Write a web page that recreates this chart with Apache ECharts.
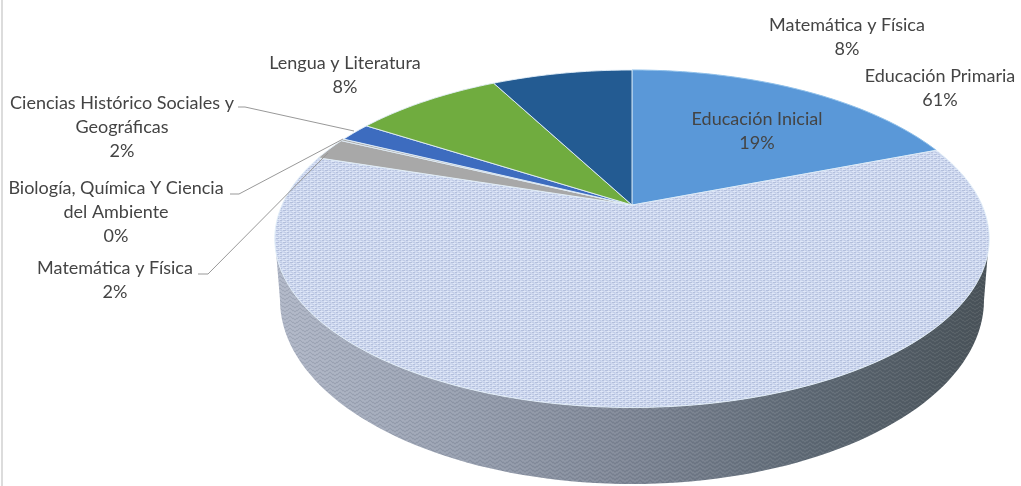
<!DOCTYPE html>
<html>
<head>
<meta charset="utf-8">
<style>html,body{margin:0;padding:0;background:#fff}#c{width:1021px;height:486px}</style>
<script src="https://cdn.jsdelivr.net/npm/echarts@6/dist/echarts.min.js"></script>
</head>
<body>
<div id="c"></div>
<script>
// ---- data ----
const categories = ['Educación Inicial','Educación Primaria','Matemática y Física','Biología, Química Y Ciencia del Ambiente','Ciencias Histórico Sociales y Geográficas','Lengua y Literatura','Matemática y Física'];
const values = [19.1, 60.9, 2.1, 0.2, 1.8, 8.2, 7.7];
const labelLines = [['Educación Inicial'],['Educación Primaria'],['Matemática y Física'],['Biología, Química Y Ciencia','del Ambiente'],['Ciencias Histórico Sociales y','Geográficas'],['Lengua y Literatura'],['Matemática y Física']];

// ---- layout / style ----
const labelPos = [[757,119],[940,76],[115,268],[116,188],[122,103],[345,63],[847,25]];
const leaderStart = {2:[198,274,208,274],3:[230,194,239,194],4:[238,107,245,107]};
const leaderEnd = {2:[328,153],3:[343,139],4:[354,131]};
const colors = ['#5a98d8',null,'#a8a8a8','#a8a8a8','#3d6cbf','#70ac3f','#235b92'];
const proj = {cx:632, c:350, a:121, b:205, k:-0.2};
const topEll = {cy:238.75, rx:357, ry:168.75};
const lowEll = {cy:300, rx:352, ry:184};
const total = values.reduce((s,v)=>s+v,0);

function project(t){ // t: clockwise angle from 12 o'clock on the flat disc
  const X=Math.sin(t),Y=-Math.cos(t),d=1+proj.k*Y;
  return [proj.cx+proj.c*X/d,(proj.a*Y+proj.b)/d];
}
function tile(w,h,paint){const cv=document.createElement('canvas');cv.width=w;cv.height=h;paint(cv.getContext('2d'));return cv;}
const topTile = tile(7,4,g=>{
  g.fillStyle='#ced8ef';g.fillRect(0,0,7,4);
  g.fillStyle='#b3bfdc';g.fillRect(0,0,2,1);g.fillRect(3,2,3,1);
  g.fillStyle='#c1cce6';g.fillRect(4,0,2,1);g.fillRect(0,2,2,1);
  g.fillStyle='#dfe7f7';g.fillRect(2,1,3,1);g.fillRect(5,3,2,1);g.fillRect(0,3,1,1);
});
const wallTile = tile(10,4,g=>{
  for(let x=0;x<10;x++){
    const y=Math.round((x<5?x:9-x)*0.75);
    g.fillStyle='rgba(40,48,60,0.11)';g.fillRect(x,y,1,1);
    g.fillStyle='rgba(255,255,255,0.07)';g.fillRect(x,(y+2)%4,1,1);
  }
});
function wallPoints(){
  const p=[];
  for(let d=0;d<=180;d+=2){const r=d*Math.PI/180;p.push([proj.cx+lowEll.rx*Math.cos(r),lowEll.cy+lowEll.ry*Math.sin(r)]);}
  for(let d=180;d>=0;d-=2){const r=d*Math.PI/180;p.push([proj.cx+topEll.rx*Math.cos(r),topEll.cy+topEll.ry*Math.sin(r)]);}
  return p;
}
function sliceRender(params,api){
  const i=params.dataIndex;
  let start=0;for(let j=0;j<i;j++)start+=values[j];
  const v=api.value(1);
  const a0=start/total*2*Math.PI,a1=(start+v)/total*2*Math.PI;
  const pts=[[proj.cx,proj.b]];
  const n=Math.max(2,Math.ceil((a1-a0)/(Math.PI/180)));
  for(let s=0;s<=n;s++)pts.push(project(a0+(a1-a0)*s/n));
  const top={type:'polygon',shape:{points:pts},style:{
    fill:colors[i]||{image:topTile,repeat:'repeat'},
    stroke:i===0?'#8fc0ea':'rgba(226,238,248,0.9)',lineWidth:1,lineJoin:'round'}};
  if(i!==1)return top;
  const w=wallPoints();
  return {type:'group',children:[
    {type:'polygon',shape:{points:w},style:{fill:{type:'linear',x:275,y:0,x2:990,y2:0,global:true,colorStops:[
      {offset:0,color:'#b0b7c7'},{offset:0.25,color:'#98a0b0'},{offset:0.5,color:'#7e8695'},{offset:0.75,color:'#5f6a75'},{offset:1,color:'#4a5359'}]}}},
    {type:'polygon',shape:{points:w},style:{fill:{image:wallTile,repeat:'repeat'}}},
    top
  ]};
}
function labelRender(params,api){
  const i=params.dataIndex;
  const pct=Math.round(api.value(1)/total*100)+'%';
  const lines=labelLines[i].concat([pct]);
  const kids=lines.map((t,k)=>({type:'text',style:{
    x:labelPos[i][0],y:labelPos[i][1]+k*24,text:t,textAlign:'center',textVerticalAlign:'middle',
    font:'18px Lato',fill:'#444444'}}));
  if(leaderStart[i]){
    const s=leaderStart[i],e=leaderEnd[i];
    kids.push({type:'polyline',shape:{points:[[s[0],s[1]],[s[2],s[3]],e]},style:{fill:'none',stroke:'#999999',lineWidth:1}});
  }
  return {type:'group',children:kids};
}
const seriesData = values.map((v,i)=>({name:categories[i],value:[i,v]}));
const chart = echarts.init(document.getElementById('c'),null,{renderer:'canvas'});
chart.setOption({
  animation:false,
  backgroundColor:'#ffffff',
  graphic:[{type:'rect',left:1,top:0,shape:{width:2,height:486},style:{fill:'#dcdcdc'},silent:true}],
  series:[
    {type:'custom',coordinateSystem:'none',renderItem:sliceRender,data:seriesData,silent:true,z:2},
    {type:'custom',coordinateSystem:'none',renderItem:labelRender,data:seriesData,silent:true,z:3}
  ]
});
</script>
</body>
</html>
